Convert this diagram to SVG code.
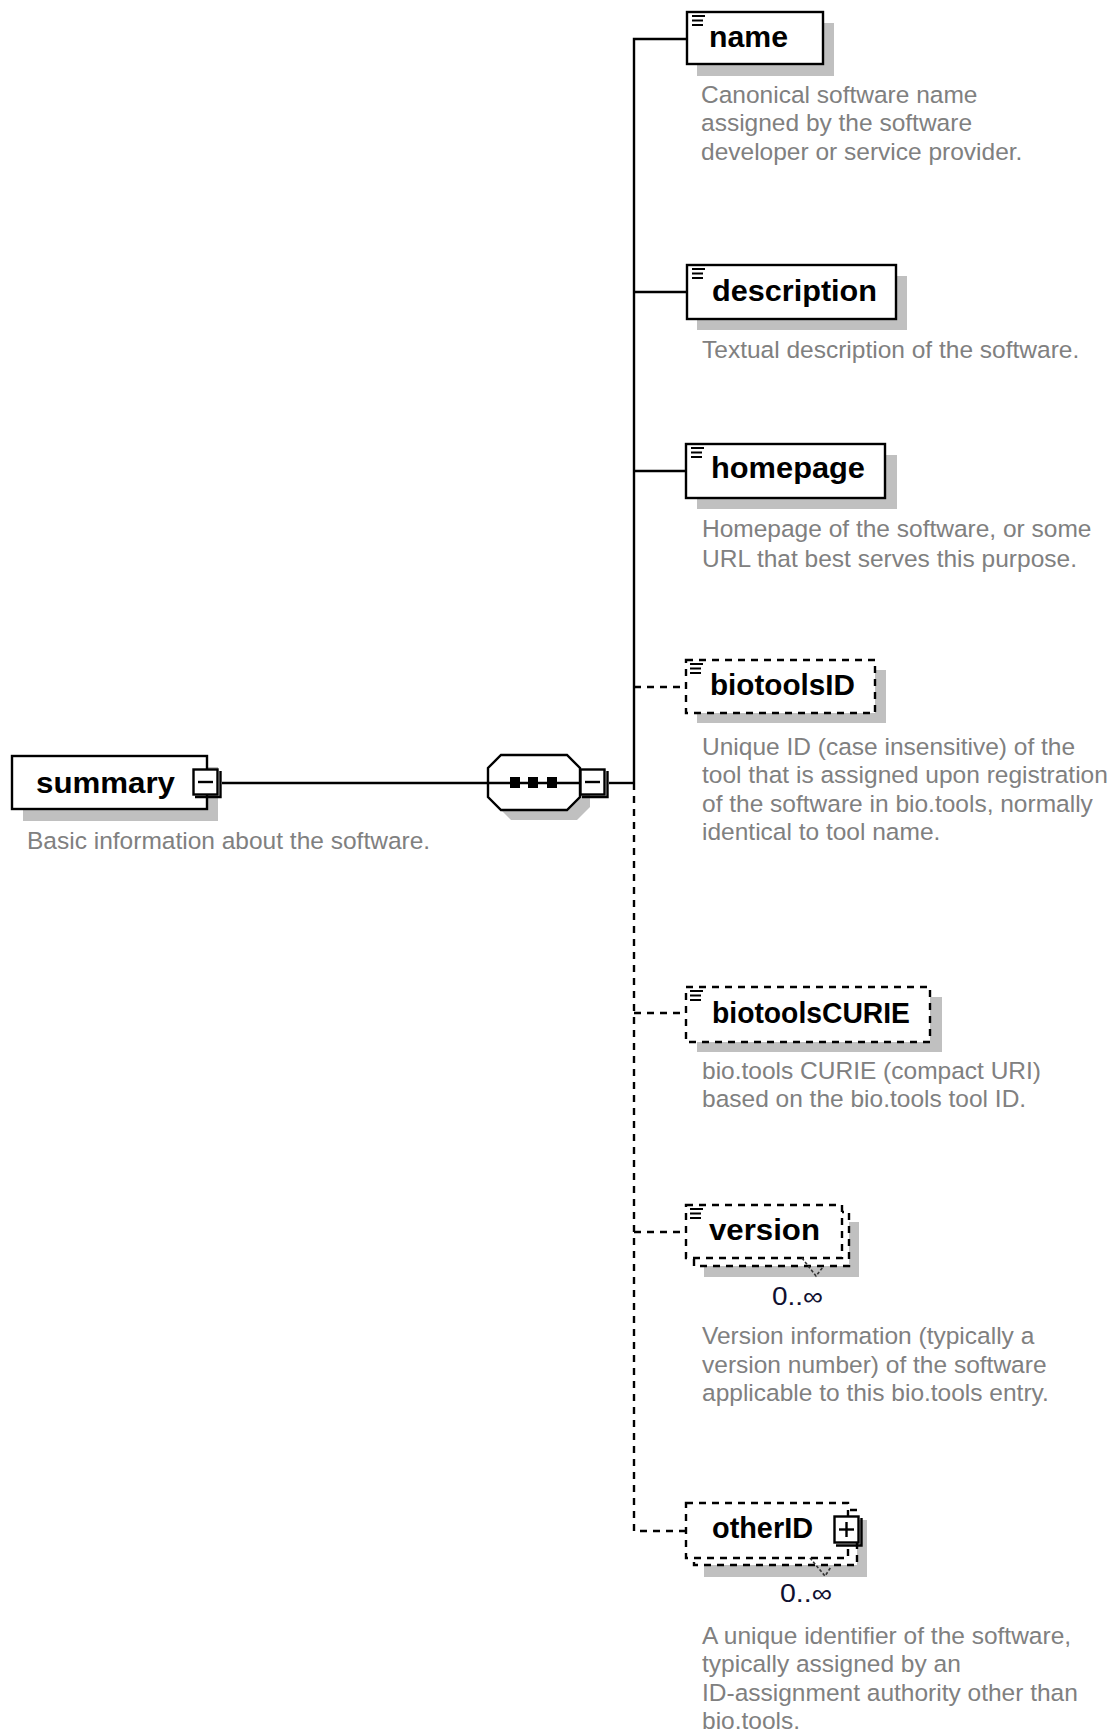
<svg xmlns="http://www.w3.org/2000/svg" width="1109" height="1732" viewBox="0 0 1109 1732">
  <defs>
    <style>
      .shadow { fill: #c0c0c0; stroke: none; }
      .box { fill: #ffffff; stroke: #000000; stroke-width: 2.4; }
      .opt { stroke-dasharray: 7 6; }
      .ln { fill: none; stroke: #000000; stroke-width: 2.4; }
      .dash { stroke-dasharray: 7 6; }
      .title { font-family: "Liberation Sans", Arial, sans-serif; font-weight: bold; font-size: 29px; fill: #000000; }
      .desc { font-family: "Liberation Sans", Arial, sans-serif; font-size: 24.5px; fill: #808080; }
      .occ { font-family: "Liberation Sans", Arial, sans-serif; font-size: 25px; fill: #101030; }
      .icon { stroke: #000000; stroke-width: 2; }
      .tick { fill: none; stroke: #333333; stroke-width: 1.6; stroke-dasharray: 3 2; }
    </style>
    <!-- "simple content" marker shown in the top-left corner of element boxes -->
    <g id="textIcon">
      <line class="icon" x1="0" y1="1" x2="13" y2="1"/>
      <line class="icon" x1="0" y1="5.5" x2="11" y2="5.5"/>
      <line class="icon" x1="0" y1="10" x2="11" y2="10"/>
    </g>
  </defs>

  <rect width="1109" height="1732" fill="#ffffff"/>

  <!-- connectors -->
  <g id="connectors">
    <line class="ln" x1="222" y1="783" x2="488" y2="783"/>
    <line class="ln" x1="609" y1="783" x2="634" y2="783"/>
    <!-- mandatory children: solid trunk -->
    <polyline class="ln" points="687,39 634,39 634,783"/>
    <line class="ln" x1="634" y1="292" x2="687" y2="292"/>
    <line class="ln" x1="634" y1="471" x2="687" y2="471"/>
    <!-- optional children: dashed -->
    <line class="ln dash" x1="634" y1="687" x2="686" y2="687"/>
    <polyline class="ln dash" points="634,783 634,1531 686,1531"/>
    <line class="ln dash" x1="634" y1="1013" x2="686" y2="1013"/>
    <line class="ln dash" x1="634" y1="1232" x2="686" y2="1232"/>
  </g>

  <!-- summary (root element) -->
  <g id="summary">
    <rect class="shadow" x="23" y="767" width="195" height="54"/>
    <rect class="box" x="12" y="756" width="195" height="53"/>
    <text class="title" x="36" y="793" textLength="139" lengthAdjust="spacingAndGlyphs">summary</text>
    <rect class="box" x="193.5" y="769.5" width="24" height="25" stroke-width="2.2"/>
    <path class="ln" d="M220.5,771 V797 H195" stroke-width="3.2"/>
    <line class="ln" x1="198" y1="782" x2="213" y2="782" stroke-width="2"/>
    <text class="desc" x="27" y="849">Basic information about the software.</text>
  </g>

  <!-- sequence compositor -->
  <g id="sequence">
    <polygon class="shadow" points="511,765 577,765 590,778 590,807 577,820 511,820 498,807 498,778"/>
    <polygon class="box" points="501,755 567,755 580,768 580,797 567,810 501,810 488,797 488,768"/>
    <line class="ln" x1="488" y1="783" x2="580" y2="783"/>
    <rect x="510" y="777" width="10" height="11" fill="#000000"/>
    <rect x="528" y="777" width="10" height="11" fill="#000000"/>
    <rect x="547" y="777" width="10" height="11" fill="#000000"/>
    <rect class="box" x="580.5" y="769.5" width="24" height="25" stroke-width="2.2"/>
    <path class="ln" d="M607.5,771 V797 H582" stroke-width="3.2"/>
    <line class="ln" x1="585" y1="782" x2="600" y2="782" stroke-width="2"/>
  </g>

  <!-- name -->
  <g id="name">
    <rect class="shadow" x="697" y="23" width="137" height="53"/>
    <rect class="box" x="687" y="12" width="136" height="52"/>
    <use href="#textIcon" x="692" y="15"/>
    <text class="title" x="709" y="47" textLength="79" lengthAdjust="spacingAndGlyphs">name</text>
    <text class="desc" x="701" y="103">Canonical software name</text>
    <text class="desc" x="701" y="131">assigned by the software</text>
    <text class="desc" x="701" y="160">developer or service provider.</text>
  </g>

  <!-- description -->
  <g id="description">
    <rect class="shadow" x="697" y="276" width="210" height="54"/>
    <rect class="box" x="687" y="265" width="209" height="54"/>
    <use href="#textIcon" x="692" y="268"/>
    <text class="title" x="712" y="301" textLength="165" lengthAdjust="spacingAndGlyphs">description</text>
    <text class="desc" x="702" y="358">Textual description of the software.</text>
  </g>

  <!-- homepage -->
  <g id="homepage">
    <rect class="shadow" x="697" y="455" width="200" height="54"/>
    <rect class="box" x="686" y="444" width="199" height="54"/>
    <use href="#textIcon" x="691" y="447"/>
    <text class="title" x="711" y="478" textLength="154" lengthAdjust="spacingAndGlyphs">homepage</text>
    <text class="desc" x="702" y="537">Homepage of the software, or some</text>
    <text class="desc" x="702" y="567">URL that best serves this purpose.</text>
  </g>

  <!-- biotoolsID (optional) -->
  <g id="biotoolsID">
    <rect class="shadow" x="697" y="670" width="189" height="53"/>
    <rect class="box opt" x="686" y="660" width="189" height="53"/>
    <use href="#textIcon" x="690" y="663"/>
    <text class="title" x="710" y="695" textLength="145" lengthAdjust="spacingAndGlyphs">biotoolsID</text>
    <text class="desc" x="702" y="755">Unique ID (case insensitive) of the</text>
    <text class="desc" x="702" y="783">tool that is assigned upon registration</text>
    <text class="desc" x="702" y="812">of the software in bio.tools, normally</text>
    <text class="desc" x="702" y="840">identical to tool name.</text>
  </g>

  <!-- biotoolsCURIE (optional) -->
  <g id="biotoolsCURIE">
    <rect class="shadow" x="697" y="997" width="245" height="55"/>
    <rect class="box opt" x="686" y="987" width="244" height="55"/>
    <use href="#textIcon" x="690" y="990"/>
    <text class="title" x="712" y="1023" textLength="198" lengthAdjust="spacingAndGlyphs">biotoolsCURIE</text>
    <text class="desc" x="702" y="1079">bio.tools CURIE (compact URI)</text>
    <text class="desc" x="702" y="1107">based on the bio.tools tool ID.</text>
  </g>

  <!-- version (0..unbounded) -->
  <g id="version">
    <rect class="shadow" x="704" y="1222" width="155" height="55"/>
    <rect class="box opt" x="694" y="1212" width="155" height="54"/>
    <rect class="box opt" x="686" y="1205" width="156" height="53"/>
    <use href="#textIcon" x="690" y="1208"/>
    <text class="title" x="709" y="1240" textLength="111" lengthAdjust="spacingAndGlyphs">version</text>
    <polyline class="tick" points="802,1258 816,1276 823,1267"/>
    <text class="occ" x="772" y="1305" textLength="51" lengthAdjust="spacingAndGlyphs">0..∞</text>
    <text class="desc" x="702" y="1344">Version information (typically a</text>
    <text class="desc" x="702" y="1373">version number) of the software</text>
    <text class="desc" x="702" y="1401">applicable to this bio.tools entry.</text>
  </g>

  <!-- otherID (0..unbounded, complex) -->
  <g id="otherID">
    <rect class="shadow" x="704" y="1520" width="163" height="57"/>
    <rect class="box opt" x="694" y="1510" width="163" height="55"/>
    <rect class="box opt" x="686" y="1503" width="162" height="55"/>
    <text class="title" x="712" y="1538" textLength="101" lengthAdjust="spacingAndGlyphs">otherID</text>
    <rect class="box" x="834.5" y="1516.5" width="24" height="26" stroke-width="2.2"/>
    <path class="ln" d="M861.5,1518 V1545.5 H836" stroke-width="3.2"/>
    <line class="ln" x1="839" y1="1529.5" x2="854" y2="1529.5" stroke-width="2"/>
    <line class="ln" x1="846.5" y1="1522" x2="846.5" y2="1537" stroke-width="2"/>
    <polyline class="tick" points="810,1558 825,1576 831,1567"/>
    <text class="occ" x="780" y="1602" textLength="52" lengthAdjust="spacingAndGlyphs">0..∞</text>
    <text class="desc" x="702" y="1644">A unique identifier of the software,</text>
    <text class="desc" x="702" y="1672">typically assigned by an</text>
    <text class="desc" x="702" y="1701">ID-assignment authority other than</text>
    <text class="desc" x="702" y="1729">bio.tools.</text>
  </g>
</svg>
